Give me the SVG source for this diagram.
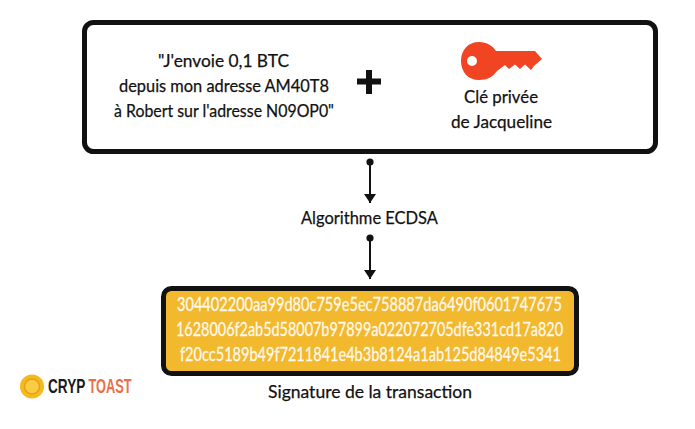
<svg xmlns="http://www.w3.org/2000/svg" width="695" height="429" viewBox="0 0 695 429">
<style>
.t{font-family:"Lato","Noto Sans",sans-serif;font-size:18px;fill:#111;stroke:#111;stroke-width:.25}
.h{font-family:"Lato","Noto Sans",sans-serif;font-size:19px;fill:#fff8ea;stroke:#fff8ea;stroke-width:.3}
.l{font-family:"Liberation Sans",sans-serif;font-size:20px;font-weight:700}
.c{stroke:#111;stroke-width:2;fill:none}
</style>
<defs>
<marker id="dot" markerWidth="8" markerHeight="8" refX="4" refY="4" markerUnits="userSpaceOnUse"><circle cx="4" cy="4" r="3.6" fill="#111"/></marker>
<marker id="arrow" markerWidth="12" markerHeight="9" refX="6" refY="9" markerUnits="userSpaceOnUse"><path d="M0 0H12L6 9Z" fill="#111"/></marker>
</defs>
<rect width="695" height="429" fill="#fff"/>
<g id="node-message">
<rect x="84.500" y="22.500" width="571" height="129" rx="9" fill="#fff" stroke="#111" stroke-width="5"/>
<text class="t" x="158" y="67" textLength="131" lengthAdjust="spacingAndGlyphs">"J'envoie 0,1 BTC</text>
<text class="t" x="119" y="92" textLength="210" lengthAdjust="spacingAndGlyphs">depuis mon adresse AM40T8</text>
<text class="t" x="114" y="117" textLength="220" lengthAdjust="spacingAndGlyphs">à Robert sur l'adresse N09OP0"</text>
<path d="M357 78.500H366V70H372V78.500H381V84.500H372V94H366V84.500H357Z" fill="#111"/>
<path fill-rule="evenodd" fill="#f04423" d="M479 42C487 42 493 46 496 51H535L542 59L534 66L531 70L525 64.500L520 69L515 64.500L509 69L505 65L497 71C493 77 487 80 479 80C468 80 461 72 461 61C461 50 468 42 479 42ZM472 56A5 5 0 1 0 472 66A5 5 0 1 0 472 56Z"/>
<text class="t" x="464" y="103" textLength="74" lengthAdjust="spacingAndGlyphs">Clé privée</text>
<text class="t" x="451" y="128" textLength="101" lengthAdjust="spacingAndGlyphs">de Jacqueline</text>
</g>
<g id="connectors">
<path class="c" d="M370 162V203" marker-start="url(#dot)" marker-end="url(#arrow)"/>
<path class="c" d="M370 238V279" marker-start="url(#dot)" marker-end="url(#arrow)"/>
</g>
<g id="node-algorithm">
<text class="t" x="301" y="224" textLength="137" lengthAdjust="spacingAndGlyphs">Algorithme ECDSA</text>
</g>
<g id="node-signature">
<rect x="163.500" y="288.500" width="413" height="85" rx="8" fill="#f2b92f" stroke="#111" stroke-width="5"/>
<text class="h" x="177" y="311" textLength="385" lengthAdjust="spacingAndGlyphs">304402200aa99d80c759e5ec758887da6490f0601747675</text>
<text class="h" x="176" y="336" textLength="387" lengthAdjust="spacingAndGlyphs">1628006f2ab5d58007b97899a022072705dfe331cd17a820</text>
<text class="h" x="180" y="361" textLength="381" lengthAdjust="spacingAndGlyphs">f20cc5189b49f7211841e4b3b8124a1ab125d84849e5341</text>
<text class="t" x="268" y="398" textLength="204" lengthAdjust="spacingAndGlyphs">Signature de la transaction</text>
</g>
<g id="logo">
<circle cx="32" cy="386.500" r="12" fill="#f5b81f"/>
<circle cx="32" cy="386.500" r="7.500" fill="#fbcb45" stroke="#e8a010" stroke-width="1.500"/>
<text class="l" transform="translate(48 393) scale(.68 1)" fill="#1a1a1a">CRYP</text>
<text class="l" transform="translate(88.500 393) scale(.64 1)" fill="#e8714a">TOAST</text>
</g>
</svg>
